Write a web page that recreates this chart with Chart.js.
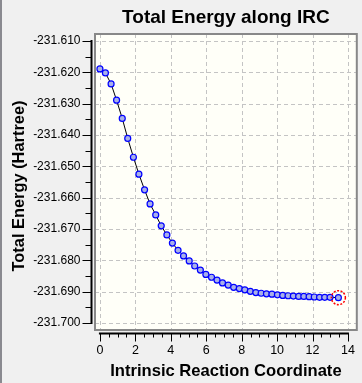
<!DOCTYPE html>
<html lang="en">
<head>
    <meta charset="UTF-8">
    <title>Total Energy along IRC</title>
    <script src="https://cdn.jsdelivr.net/npm/chart.js"></script>
    <style>
        html, body { margin: 0; padding: 0; background: #f0f0f0; }
        canvas { display: block; }
    </style>
</head>
<body>
    <canvas id="ircChart" width="362" height="383"></canvas>

    <script>
        // Data
        const chartTitle = 'Total Energy along IRC';
        const xTitle = 'Intrinsic Reaction Coordinate';
        const yTitle = 'Total Energy (Hartree)';

        const ircCoord = [0.00, 0.31, 0.63, 0.94, 1.26, 1.57, 1.89, 2.20, 2.52, 2.83,
                          3.15, 3.46, 3.78, 4.09, 4.41, 4.72, 5.04, 5.35, 5.67, 5.98,
                          6.30, 6.61, 6.92, 7.24, 7.55, 7.87, 8.18, 8.49, 8.80, 9.10,
                          9.40, 9.71, 10.02, 10.32, 10.62, 10.92, 11.22, 11.51, 11.81, 12.10,
                          12.40, 12.69, 12.99, 13.46];
        const totalEnergy = [-231.6189, -231.6202, -231.6237, -231.6289, -231.6347, -231.6411, -231.6471, -231.6525, -231.6575, -231.6620,
                             -231.6655, -231.6690, -231.6719, -231.6745, -231.6768, -231.6786, -231.6802, -231.6818, -231.6831, -231.6845,
                             -231.6854, -231.6863, -231.6872, -231.6879, -231.6886, -231.6890, -231.6894, -231.6899, -231.6903, -231.6905,
                             -231.6907, -231.6908, -231.6910, -231.6912, -231.6913, -231.6914, -231.6915, -231.6915, -231.6916, -231.6917,
                             -231.6918, -231.6918, -231.6918, -231.6919];

        const yTickValues = [-231.61, -231.62, -231.63, -231.64, -231.65, -231.66, -231.67, -231.68, -231.69, -231.70];
        const yTickLabels = ['-231.610', '-231.620', '-231.630', '-231.640', '-231.650', '-231.660', '-231.670', '-231.680', '-231.690', '-231.700'];
        const yMinorValues = [-231.615, -231.625, -231.635, -231.645, -231.655, -231.665, -231.675, -231.685, -231.695];
        const xTickValues = [0, 2, 4, 6, 8, 10, 12, 14];
        const xTickLabels = ['0', '2', '4', '6', '8', '10', '12', '14'];
        const xMinorValues = [0.5, 1, 1.5, 2.5, 3, 3.5, 4.5, 5, 5.5, 6.5, 7, 7.5, 8.5, 9, 9.5,
                              10.5, 11, 11.5, 12.5, 13, 13.5];

        const points = ircCoord.map((x, i) => ({ x: x, y: totalEnergy[i] }));

        // Background, grid, detached axes and titles
        const frame = {
            id: 'frame',
            beforeDraw(chart) {
                const ctx = chart.ctx;
                const area = chart.chartArea;
                const xs = chart.scales.x;
                const ys = chart.scales.y;
                ctx.save();
                ctx.fillStyle = '#f0f0f0';
                ctx.fillRect(0, 0, chart.width, chart.height);
                ctx.fillStyle = '#8a8a90';
                ctx.fillRect(0, 0, 2, chart.height);

                ctx.fillStyle = '#fffff8';
                ctx.fillRect(area.left, area.top, area.right - area.left, area.bottom - area.top);

                // dashed grid
                ctx.strokeStyle = '#c4c4c4';
                ctx.lineWidth = 1;
                ctx.setLineDash([4, 3]);
                yTickValues.forEach(v => {
                    const y = Math.round(ys.getPixelForValue(v)) + 0.5;
                    ctx.beginPath();
                    ctx.moveTo(area.left, y);
                    ctx.lineTo(area.right, y);
                    ctx.stroke();
                });
                xTickValues.forEach(v => {
                    const x = Math.round(xs.getPixelForValue(v)) + 0.5;
                    ctx.beginPath();
                    ctx.moveTo(x, area.top);
                    ctx.lineTo(x, area.bottom);
                    ctx.stroke();
                });
                ctx.setLineDash([]);

                // plot border
                ctx.strokeStyle = '#888888';
                ctx.lineWidth = 2;
                ctx.strokeRect(area.left, area.top, area.right - area.left, area.bottom - area.top);

                // y axis
                const yAxisX = area.left - 3.5;
                ctx.strokeStyle = '#000';
                ctx.lineWidth = 2;
                ctx.beginPath();
                ctx.moveTo(yAxisX, ys.getPixelForValue(-231.61) - 1);
                ctx.lineTo(yAxisX, ys.getPixelForValue(-231.70) + 1);
                ctx.stroke();
                ctx.lineWidth = 1;
                yTickValues.forEach(v => {
                    const y = Math.round(ys.getPixelForValue(v)) + 0.5;
                    ctx.beginPath();
                    ctx.moveTo(yAxisX - 9, y);
                    ctx.lineTo(yAxisX, y);
                    ctx.stroke();
                });
                yMinorValues.forEach(v => {
                    const y = Math.round(ys.getPixelForValue(v)) + 0.5;
                    ctx.beginPath();
                    ctx.moveTo(yAxisX - 6, y);
                    ctx.lineTo(yAxisX, y);
                    ctx.stroke();
                });
                ctx.fillStyle = '#000';
                ctx.font = '12px "Liberation Sans", Arial, sans-serif';
                ctx.textAlign = 'right';
                ctx.textBaseline = 'middle';
                yTickValues.forEach((v, i) => {
                    ctx.fillText(yTickLabels[i], yAxisX - 11, ys.getPixelForValue(v));
                });

                // x axis
                const xAxisY = area.bottom + 3.5;
                ctx.lineWidth = 2;
                ctx.beginPath();
                ctx.moveTo(xs.getPixelForValue(0) - 1, xAxisY);
                ctx.lineTo(xs.getPixelForValue(14) + 1, xAxisY);
                ctx.stroke();
                ctx.lineWidth = 1;
                xTickValues.forEach(v => {
                    const x = Math.round(xs.getPixelForValue(v)) + 0.5;
                    ctx.beginPath();
                    ctx.moveTo(x, xAxisY);
                    ctx.lineTo(x, xAxisY + 8);
                    ctx.stroke();
                });
                xMinorValues.forEach(v => {
                    const x = Math.round(xs.getPixelForValue(v)) + 0.5;
                    ctx.beginPath();
                    ctx.moveTo(x, xAxisY);
                    ctx.lineTo(x, xAxisY + 4);
                    ctx.stroke();
                });
                ctx.font = '12.5px "Liberation Sans", Arial, sans-serif';
                ctx.textAlign = 'center';
                xTickValues.forEach((v, i) => {
                    ctx.fillText(xTickLabels[i], xs.getPixelForValue(v), 351);
                });

                // titles
                const midX = (area.left + area.right) / 2;
                ctx.textBaseline = 'alphabetic';
                ctx.font = 'bold 19px "Liberation Sans", Arial, sans-serif';
                ctx.fillText(chartTitle, midX, 23);
                ctx.font = 'bold 16.6px "Liberation Sans", Arial, sans-serif';
                ctx.fillText(xTitle, midX, 376);
                ctx.font = 'bold 16.4px "Liberation Sans", Arial, sans-serif';
                ctx.save();
                ctx.translate(24, 186);
                ctx.rotate(-Math.PI / 2);
                ctx.fillText(yTitle, 0, 0);
                ctx.restore();
                ctx.restore();
            },
            afterDatasetsDraw(chart) {
                // red dashed marker round the last IRC point
                const meta = chart.getDatasetMeta(0);
                const last = meta.data[meta.data.length - 1];
                const ctx = chart.ctx;
                ctx.save();
                ctx.strokeStyle = '#ff0000';
                ctx.lineWidth = 1.5;
                ctx.setLineDash([2, 1.5]);
                ctx.beginPath();
                ctx.arc(last.x, last.y, 7, 0, Math.PI * 2);
                ctx.stroke();
                ctx.restore();
            }
        };

        new Chart(document.getElementById('ircChart'), {
            type: 'line',
            data: {
                datasets: [{
                    data: points,
                    borderColor: '#000000',
                    borderWidth: 1,
                    tension: 0,
                    pointRadius: 3,
                    pointBackgroundColor: '#a8b0e8',
                    pointBorderColor: '#0000ff',
                    pointBorderWidth: 1.2
                }]
            },
            options: {
                responsive: false,
                animation: false,
                devicePixelRatio: 1,
                layout: {
                    padding: { left: 95, top: 34, right: 1, bottom: 53 }
                },
                plugins: {
                    legend: { display: false },
                    title: { display: false },
                    tooltip: { enabled: false }
                },
                scales: {
                    x: { type: 'linear', display: false, min: -0.278, max: 14.5 },
                    y: { type: 'linear', display: false, min: -231.70223, max: -231.60777 }
                }
            },
            plugins: [frame]
        });
    </script>
</body>
</html>
